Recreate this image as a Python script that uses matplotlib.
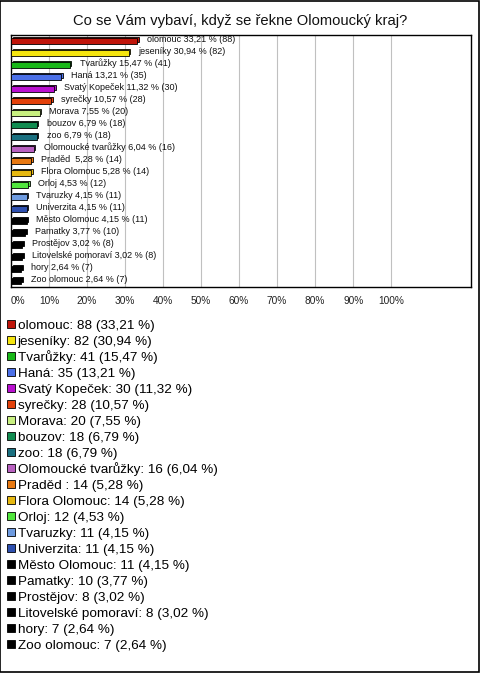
import matplotlib
matplotlib.use('Agg')
import matplotlib.pyplot as plt
import matplotlib.patheffects as pe
from matplotlib.patches import Rectangle
from matplotlib.lines import Line2D

plt.rcParams['font.family'] = ['Liberation Sans', 'DejaVu Sans']

### data ###
labels = ['olomouc', 'jeseníky', 'Tvarůžky', 'Haná', 'Svatý Kopeček', 'syrečky', 'Morava',
          'bouzov', 'zoo', 'Olomoucké tvarůžky', 'Praděd ', 'Flora Olomouc', 'Orloj',
          'Tvaruzky', 'Univerzita', 'Město Olomouc', 'Pamatky', 'Prostějov',
          'Litovelské pomoraví', 'hory', 'Zoo olomouc']
counts = [88, 82, 41, 35, 30, 28, 20, 18, 18, 16, 14, 14, 12, 11, 11, 11, 10, 8, 8, 7, 7]
percents = [33.21, 30.94, 15.47, 13.21, 11.32, 10.57, 7.55, 6.79, 6.79, 6.04, 5.28, 5.28,
            4.53, 4.15, 4.15, 4.15, 3.77, 3.02, 3.02, 2.64, 2.64]
colors = ['#c0150a', '#f5e50f', '#18b818', '#4b70e8', '#b90fd0', '#e3400a', '#c8f080',
          '#108c50', '#1a7080', '#b860c0', '#e87810', '#e6b810', '#50e63c', '#6e9be0',
          '#2e50b0', '#000000', '#000000', '#000000', '#000000', '#000000', '#000000']
ticks = [0, 10, 20, 30, 40, 50, 60, 70, 80, 90, 100]

def cz(v):
    return f"{v:.2f}".replace('.', ',')

fig = plt.figure(figsize=(4.8, 6.73), dpi=100)
fig.patches.append(Rectangle((0.001, 0.001), 0.997, 0.997, transform=fig.transFigure,
                             fill=False, edgecolor='black', linewidth=1.2))
fig.text(0.5, 0.969, 'Co se Vám vybaví, když se řekne Olomoucký kraj?',
         ha='center', va='center', fontsize=10.6, color='#111111')

ax = fig.add_axes([11/480, 1-287/673, 460/480, 252/673])
ypos = list(range(len(labels)))
bars = ax.barh(ypos, percents, height=0.42, color=colors, edgecolor='black', linewidth=0.6,
               zorder=3)
for b in bars:
    b.set_path_effects([pe.Stroke(offset=(1.1, 1.1), linewidth=0.6, foreground='black'),
                        pe.Normal()])

for i in ypos:
    ax.annotate(f"{labels[i]} {cz(percents[i])} % ({counts[i]})", (percents[i], i),
                xytext=(7, 1), textcoords='offset points', va='center', ha='left',
                fontsize=6.5, color='#111111', zorder=4)

ax.set_xlim(0, 121)
ax.set_ylim(20.5, -0.5)
ax.set_yticks([])
ax.set_xticks(ticks)
ax.set_xticklabels([f"{t}%" for t in ticks], fontsize=7.3, color='#222222')
ax.get_xticklabels()[0].set_ha('left')  # 0% sits right of the axis line
ax.tick_params(axis='x', length=0, pad=6.5)
ax.xaxis.grid(True, color='#c0c0c0', linewidth=0.8, zorder=0)
for s in ax.spines.values():
    s.set_color('black')
    s.set_linewidth(1.0)

# legend - square markers so every row gets the same height
handles = [Line2D([], [], linestyle='none', marker='s', markersize=5.2, markerfacecolor=c,
                  markeredgecolor='black', markeredgewidth=0.6) for c in colors]
leg_labels = [f"{labels[i]}: {counts[i]} ({cz(percents[i])} %)" for i in ypos]
fig.legend(handles, leg_labels, loc='upper left', bbox_to_anchor=(0.0, 1-310/673),
           frameon=False, fontsize=9.7, handlelength=0.5, handleheight=1.15,
           handletextpad=0.22, labelspacing=0.13, borderaxespad=0, borderpad=0.6)

fig.savefig('out.png', dpi=100)
